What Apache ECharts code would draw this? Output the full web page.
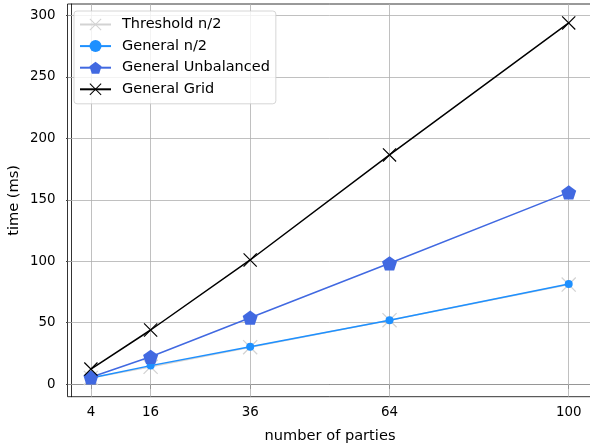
<!DOCTYPE html>
<html>
<head>
<meta charset="utf-8">
<script src="https://cdn.jsdelivr.net/npm/echarts@6/dist/echarts.min.js"></script>
<style>html,body{margin:0;padding:0;background:#fff}#c{width:590px;height:448px}</style>
</head>
<body>
<div id="c"></div>
<script>
// ---- data ----
const parties = [4, 16, 36, 64, 100];
const thresholdHalf = [5, 14, 30, 52, 81];
const generalHalf = [5, 15, 30.4, 52, 81.4];
const generalUnbalanced = [5.5, 22.2, 54, 98.3, 156];
const generalGrid = [12.2, 44, 101, 186.5, 294];
const xTicks = [4, 16, 36, 64, 100];
const yTicks = [0, 50, 100, 150, 200, 250, 300];
const seriesNames = ['Threshold n/2', 'General n/2', 'General Unbalanced', 'General Grid'];

const FONT = 'DejaVu Sans';
const X_PATH = 'path://M0,6L6,0L100,94L94,100ZM94,0L100,6L6,100L0,94Z';
const PENT_PATH = 'path://M0,-100L95.1,-30.9L58.8,80.9L-58.8,80.9L-95.1,-30.9Z';

function pts(ys) { return parties.map((x, i) => [x, ys[i]]); }

const gridLines = xTicks.map(v => ({ xAxis: v })).concat(yTicks.map(v => ({ yAxis: v })));

const chart = echarts.init(document.getElementById('c'), null, { renderer: 'canvas' });
chart.setOption({
  animation: false,
  backgroundColor: '#fff',
  textStyle: { fontFamily: FONT },
  grid: { left: 67.5, top: 4, right: -2.6, bottom: 51.3, outerBoundsMode: 'none', containLabel: false,
          show: true, borderColor: '#000', borderWidth: 0.8, backgroundColor: 'transparent' },
  legend: {
    orient: 'vertical', left: 74, top: 11,
    padding: [6, 6, 7, 5], itemGap: 6.6, itemWidth: 31, itemHeight: 15,
    backgroundColor: 'rgba(255,255,255,0.8)', borderColor: '#cccccc', borderWidth: 0.8, borderRadius: 3,
    textStyle: { fontFamily: FONT, fontSize: 14.5, color: '#000', padding: [0, 0, 0, 6] },
    data: seriesNames
  },
  xAxis: {
    type: 'value', min: -0.7, max: 104.8,
    name: 'number of parties', nameLocation: 'middle', nameGap: 32,
    nameTextStyle: { fontFamily: FONT, fontSize: 14.6, color: '#000' },
    axisLine: { show: true, lineStyle: { color: '#000', width: 0.8 } },
    axisTick: { show: true, customValues: xTicks, length: 4.9, lineStyle: { color: '#000', width: 0.8 } },
    axisLabel: { customValues: xTicks, margin: 9, fontFamily: FONT, fontSize: 13.4, color: '#000' },
    splitLine: { show: false }
  },
  yAxis: {
    type: 'value', min: -10.3, max: 309.4,
    name: 'time (ms)', nameLocation: 'middle', nameGap: 46, nameRotate: 90, nameMoveOverlap: false,
    nameTextStyle: { fontFamily: FONT, fontSize: 14.6, color: '#000' },
    axisLine: { show: true, lineStyle: { color: '#000', width: 0.8 } },
    axisTick: { show: true, customValues: yTicks, length: 4.9, lineStyle: { color: '#000', width: 0.8 } },
    axisLabel: { customValues: yTicks, margin: 12, fontFamily: FONT, fontSize: 13.4, color: '#000' },
    splitLine: { show: false }
  },
  series: [
    {
      name: seriesNames[0], type: 'line', data: pts(thresholdHalf), z: 2,
      symbol: X_PATH, symbolSize: 15, symbolKeepAspect: true,
      lineStyle: { color: '#d3d3d3', width: 1.5 },
      itemStyle: { color: '#d3d3d3', borderWidth: 0 },
      markLine: {
        silent: true, symbol: 'none', z: 1, animation: false,
        label: { show: false },
        lineStyle: { color: '#b0b0b0', width: 0.8, type: 'solid' },
        data: gridLines
      }
    },
    {
      name: seriesNames[1], type: 'line', data: pts(generalHalf), z: 3,
      symbol: 'circle', symbolSize: 8,
      lineStyle: { color: '#1e90ff', width: 1.5 },
      itemStyle: { color: '#1e90ff', borderWidth: 0 }
    },
    {
      name: seriesNames[2], type: 'line', data: pts(generalUnbalanced), z: 4,
      symbol: PENT_PATH, symbolSize: 15, symbolKeepAspect: true,
      lineStyle: { color: '#4169e1', width: 1.5 },
      itemStyle: { color: '#4169e1', borderWidth: 0 }
    },
    {
      name: seriesNames[3], type: 'line', data: pts(generalGrid), z: 5,
      symbol: X_PATH, symbolSize: 14, symbolKeepAspect: true,
      lineStyle: { color: '#000', width: 1.5 },
      itemStyle: { color: '#000', borderWidth: 0 }
    }
  ]
});
</script>
</body>
</html>
